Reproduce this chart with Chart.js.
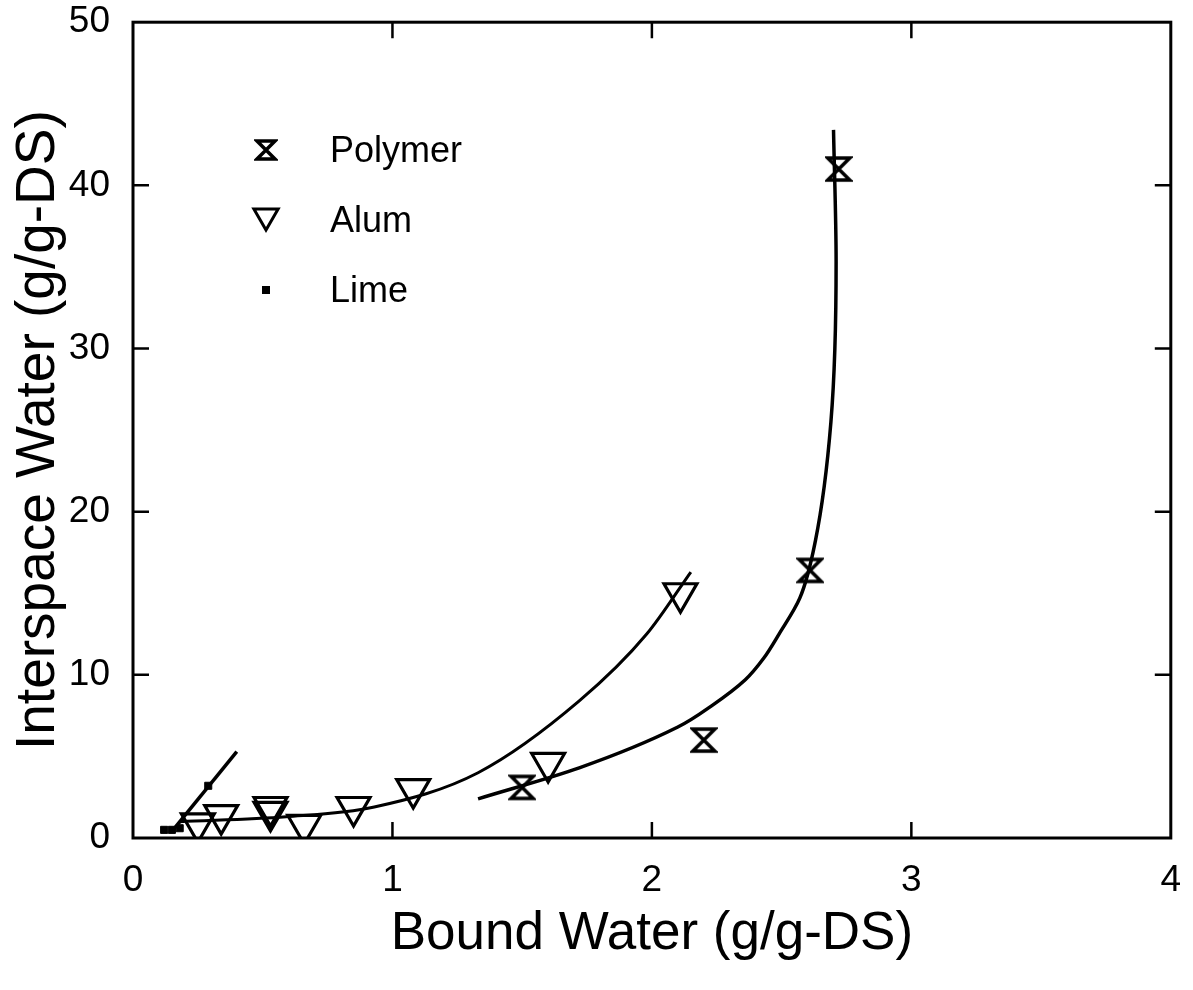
<!DOCTYPE html>
<html>
<head>
<meta charset="utf-8">
<script src="https://cdn.jsdelivr.net/npm/chart.js@4.4.1/dist/chart.umd.min.js"></script>
<style>
  html, body { margin: 0; padding: 0; background: #fff; }
  #wrap { width: 1193px; height: 990px; position: relative; }
</style>
</head>
<body>
<div id="wrap"><canvas id="waterChart"></canvas></div>
<script>
// Messpunkte
const polymerX = [1.50, 2.20, 2.61, 2.72];
const polymerY = [3.1, 6.0, 16.4, 41.0];

const alumX = [0.25, 0.34, 0.53, 0.53, 0.66, 0.85, 1.08, 1.60, 2.11];
const alumY = [0.9, 1.4, 1.6, 1.9, 0.8, 1.9, 3.0, 4.6, 15.0];

const limeX = [0.12, 0.15, 0.18, 0.29];
const limeY = [0.5, 0.5, 0.6, 3.2];

// Ausgleichskurven (Punkte entlang der gezeichneten Linien)
const polymerFitX = [1.33, 1.72, 2.10, 2.23, 2.36, 2.43, 2.49, 2.57, 2.63, 2.69, 2.71, 2.70];
const polymerFitY = [2.4, 4.3, 6.8, 8.1, 9.7, 11.0, 12.5, 14.7, 18.2, 25.5, 35.3, 43.4];

const alumFitX = [0.18, 0.59, 0.93, 1.33, 1.72, 1.98, 2.15];
const alumFitY = [1.0, 1.3, 1.9, 4.0, 8.4, 12.5, 16.3];

const limeFitX = [0.15, 0.40];
const limeFitY = [0.4, 5.3];

// Achsen
const xTicks = [0, 1, 2, 3, 4];
const yTicks = [0, 10, 20, 30, 40, 50];

const legendLabels = ['Polymer', 'Alum', 'Lime'];

function toPoints(xs, ys) {
    return xs.map((x, i) => ({ x: x, y: ys[i] }));
}

// Sanduhr-Symbol fuer Polymer
function makeHourglass(size) {
    const c = document.createElement('canvas');
    c.width = size; c.height = size;
    const g = c.getContext('2d');
    g.strokeStyle = '#000';
    g.lineWidth = 3.5;
    g.lineJoin = 'miter';
    const m = 3, s = size - m;
    g.beginPath();
    g.moveTo(m, m); g.lineTo(s, m);
    g.lineTo(m, s); g.lineTo(s, s);
    g.closePath();
    g.stroke();
    return c;
}
const hourglass = makeHourglass(28);
const hourglassSmall = makeHourglass(24);

// Rahmen und nach innen zeigende Ticks
const framePlugin = {
    id: 'frame',
    afterDatasetsDraw(chart) {
        const { ctx, chartArea: a, scales } = chart;
        ctx.save();
        ctx.strokeStyle = '#000';
        ctx.lineWidth = 3;
        ctx.strokeRect(a.left, a.top, a.right - a.left, a.bottom - a.top);
        ctx.lineWidth = 2.5;
        const len = 16;
        xTicks.slice(1, -1).forEach(v => {
            const px = scales.x.getPixelForValue(v);
            ctx.beginPath();
            ctx.moveTo(px, a.bottom); ctx.lineTo(px, a.bottom - len);
            ctx.moveTo(px, a.top); ctx.lineTo(px, a.top + len);
            ctx.stroke();
        });
        yTicks.slice(1, -1).forEach(v => {
            const py = scales.y.getPixelForValue(v);
            ctx.beginPath();
            ctx.moveTo(a.left, py); ctx.lineTo(a.left + len, py);
            ctx.moveTo(a.right, py); ctx.lineTo(a.right - len, py);
            ctx.stroke();
        });
        ctx.restore();
    }
};

// Legende innerhalb des Diagramms
const legendPlugin = {
    id: 'insideLegend',
    afterDatasetsDraw(chart) {
        const { ctx } = chart;
        const sx = 266, tx = 330;
        const rows = [150, 220, 290];
        ctx.save();
        ctx.fillStyle = '#000';
        ctx.font = '36px "Liberation Sans", Arial, sans-serif';
        ctx.textBaseline = 'middle';
        legendLabels.forEach((lab, i) => {
            ctx.fillText(lab, tx, rows[i] + 2);
        });
        ctx.drawImage(hourglassSmall, sx - 12, rows[0] - 12);
        ctx.fillRect(sx - 4, rows[2] - 4, 8, 8);
        ctx.fillStyle = 'rgba(0,0,0,0)';
        ctx.strokeStyle = '#000';
        ctx.lineWidth = 3;
        Chart.helpers.drawPoint(ctx, {
            pointStyle: 'triangle', radius: 14, rotation: 180, borderWidth: 3
        }, sx, rows[1] - 4);
        ctx.restore();
    }
};

const tickFont = { family: '"Liberation Sans", Arial, sans-serif', size: 37 };
const xTitleFont = { family: '"Liberation Sans", Arial, sans-serif', size: 53 };
const yTitleFont = { family: '"Liberation Sans", Arial, sans-serif', size: 55 };

const ctx = document.getElementById('waterChart').getContext('2d');

new Chart(ctx, {
    type: 'scatter',
    data: {
        datasets: [
            {
                label: 'Polymer fit', data: toPoints(polymerFitX, polymerFitY),
                showLine: true, borderColor: '#000', borderWidth: 3.5,
                pointRadius: 0, indexAxis: 'y', cubicInterpolationMode: 'monotone', fill: false
            },
            {
                label: 'Alum fit', data: toPoints(alumFitX, alumFitY),
                showLine: true, borderColor: '#000', borderWidth: 3,
                pointRadius: 0, cubicInterpolationMode: 'monotone', fill: false
            },
            {
                label: 'Lime fit', data: toPoints(limeFitX, limeFitY),
                showLine: true, borderColor: '#000', borderWidth: 3.5,
                pointRadius: 0, fill: false
            },
            {
                label: 'Polymer', data: toPoints(polymerX, polymerY),
                pointStyle: hourglass, pointRadius: 14
            },
            {
                label: 'Alum', data: toPoints(alumX, alumY),
                pointStyle: 'triangle', rotation: 180, pointRadius: 19,
                borderColor: '#000', borderWidth: 3.2, backgroundColor: 'rgba(255,255,255,0)'
            },
            {
                label: 'Lime', data: toPoints(limeX, limeY),
                pointStyle: 'rect', pointRadius: 5,
                borderColor: '#000', backgroundColor: '#000', borderWidth: 1
            }
        ]
    },
    options: {
        responsive: true,
        maintainAspectRatio: false,
        animation: false,
        layout: { padding: { top: 20, right: 21, left: 0, bottom: 0 } },
        plugins: {
            legend: { display: false },
            tooltip: { enabled: false }
        },
        scales: {
            x: {
                type: 'linear', min: 0, max: 4,
                afterFit: s => { s.height = 152; s.paddingLeft = 0; s.paddingRight = 0; },
                afterBuildTicks: s => { s.ticks = xTicks.map(v => ({ value: v })); },
                grid: { display: false, drawTicks: false },
                border: { display: false },
                ticks: { color: '#000', font: tickFont, padding: 21, maxRotation: 0 },
                title: {
                    display: true, text: 'Bound Water (g/g-DS)', color: '#000',
                    font: xTitleFont, padding: { top: 0, bottom: 24 }
                }
            },
            y: {
                type: 'linear', min: 0, max: 50,
                afterFit: s => { s.width = 133; s.paddingTop = 0; s.paddingBottom = 0; },
                afterBuildTicks: s => { s.ticks = yTicks.map(v => ({ value: v })); },
                grid: { display: false, drawTicks: false },
                border: { display: false },
                ticks: { color: '#000', font: tickFont, padding: 23 },
                title: {
                    display: true, text: 'Interspace Water (g/g-DS)', color: '#000',
                    font: yTitleFont, padding: { top: 6, bottom: 0 }
                }
            }
        }
    },
    plugins: [framePlugin, legendPlugin]
});
</script>
</body>
</html>
